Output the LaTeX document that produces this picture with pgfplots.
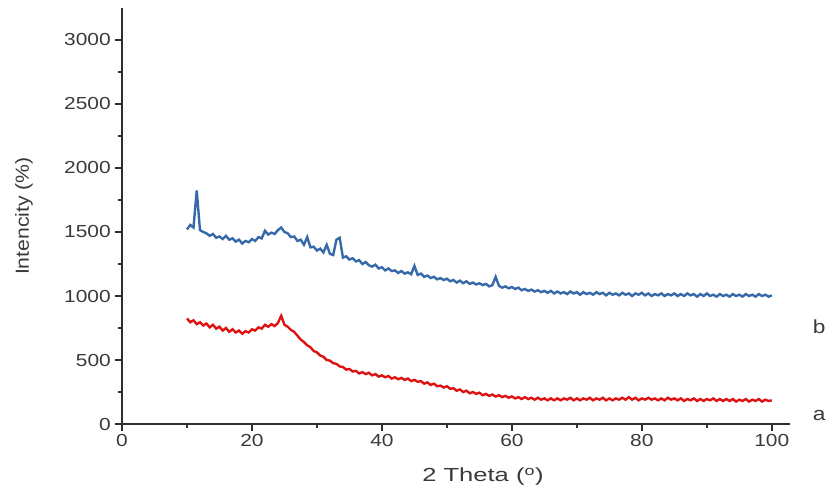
\documentclass[border=0pt]{standalone}
\usepackage{fontspec}
\setmainfont{Liberation Sans}
\usepackage{pgfplots}
\pgfplotsset{compat=1.18}
\definecolor{txt}{HTML}{3A3A3A}
\definecolor{axc}{HTML}{303030}
\definecolor{serA}{RGB}{222,18,18}
\definecolor{serB}{RGB}{55,105,168}

\begin{document}
\begin{tikzpicture}
\begin{axis}[
  scale only axis, width=668bp, height=416bp,
  xmin=0, xmax=102.8, ymin=0, ymax=3250,
  axis lines*=left,
  axis line style={axc, line width=1.7pt},
  xtick={0,20,...,100}, ytick={0,500,...,3000},
  minor x tick num=1, minor y tick num=1,
  tick align=outside,
  major tick length=7bp, minor tick length=4bp,
  tick style={axc, line width=1.4pt},
  /pgf/number format/assume math mode=true,
  /pgf/number format/1000 sep={},
  ticklabel style={font=\fontsize{17.5}{19}\selectfont, text=txt},
  xticklabel style={xscale=1.2},
  yticklabel style={xscale=1.2},
  xlabel={2 Theta (\textsuperscript{o})},
  ylabel={Intencity (\%)},
  label style={font=\fontsize{19}{21}\selectfont, text=txt},
  xlabel style={xscale=1.35, xshift=20bp, yshift=-14bp},
  ylabel style={xscale=1.12, yshift=24bp},
  clip=false,
]
% curve a (red)
\addplot[serA, line width=2.4pt] coordinates {
(10,825)(10.5,795)(11,810)(11.5,780)(12,795)(12.5,770)(13,785)(13.5,755)(14,775)(14.5,745)
(15,760)(15.5,730)(16,750)(16.5,720)(17,740)(17.5,715)(18,730)(18.5,705)(19,725)(19.5,715)
(20,740)(20.5,730)(21,755)(21.5,745)(22,775)(22.5,760)(23,780)(23.5,765)(24,790)(24.5,845)
(25,775)(25.5,760)(26,735)(26.5,720)(27,690)(27.5,660)(28,640)(28.5,615)(29,600)(29.5,570)
(30,560)(30.5,535)(31,525)(31.5,500)(32,495)(32.5,475)(33,470)(33.5,450)(34,445)(34.5,425)
(35,430)(35.5,410)(36,415)(36.5,395)(37,405)(37.5,390)(38,400)(38.5,380)(39,390)(39.5,370)
(40,380)(40.5,365)(41,375)(41.5,355)(42,365)(42.5,350)(43,360)(43.5,345)(44,355)(44.5,335)
(45,345)(45.5,330)(46,335)(46.5,315)(47,325)(47.5,305)(48,315)(48.5,295)(49,300)(49.5,285)
(50,295)(50.5,275)(51,280)(51.5,260)(52,270)(52.5,250)(53,260)(53.5,240)(54,250)(54.5,235)
(55,245)(55.5,225)(56,235)(56.5,220)(57,230)(57.5,215)(58,225)(58.5,210)(59,220)(59.5,205)
(60,215)(60.5,200)(61,210)(61.5,195)(62,210)(62.5,195)(63,205)(63.5,190)(64,205)(64.5,190)
(65,200)(65.5,185)(66,200)(66.5,185)(67,200)(67.5,185)(68,200)(68.5,190)(69,205)(69.5,185)
(70,200)(70.5,185)(71,200)(71.5,190)(72,205)(72.5,185)(73,200)(73.5,190)(74,205)(74.5,185)
(75,200)(75.5,185)(76,200)(76.5,190)(77,205)(77.5,190)(78,210)(78.5,190)(79,205)(79.5,185)
(80,200)(80.5,190)(81,205)(81.5,190)(82,200)(82.5,185)(83,200)(83.5,185)(84,205)(84.5,190)
(85,200)(85.5,185)(86,200)(86.5,180)(87,195)(87.5,185)(88,200)(88.5,180)(89,195)(89.5,180)
(90,195)(90.5,185)(91,200)(91.5,180)(92,195)(92.5,180)(93,195)(93.5,180)(94,195)(94.5,175)
(95,190)(95.5,180)(96,195)(96.5,175)(97,190)(97.5,180)(98,195)(98.5,175)(99,190)(99.5,180)
(100,185)};
% curve b (blue)
\addplot[serB, line width=2.4pt] coordinates {
(10,1520)(10.5,1555)(11,1535)(11.5,1825)(12,1515)(12.5,1500)(13,1490)(13.5,1470)(14,1485)(14.5,1455)
(15,1465)(15.5,1445)(16,1470)(16.5,1440)(17,1450)(17.5,1425)(18,1440)(18.5,1410)(19,1430)(19.5,1420)
(20,1445)(20.5,1430)(21,1460)(21.5,1450)(22,1510)(22.5,1480)(23,1495)(23.5,1485)(24,1515)(24.5,1535)
(25,1500)(25.5,1490)(26,1460)(26.5,1465)(27,1430)(27.5,1440)(28,1400)(28.5,1460)(29,1380)(29.5,1385)
(30,1355)(30.5,1370)(31,1340)(31.5,1400)(32,1330)(32.5,1320)(33,1440)(33.5,1455)(34,1300)(34.5,1310)
(35,1285)(35.5,1295)(36,1270)(36.5,1280)(37,1250)(37.5,1265)(38,1240)(38.5,1230)(39,1245)(39.5,1215)
(40,1225)(40.5,1200)(41,1215)(41.5,1195)(42,1200)(42.5,1180)(43,1195)(43.5,1175)(44,1185)(44.5,1170)
(45,1235)(45.5,1165)(46,1175)(46.5,1150)(47,1160)(47.5,1140)(48,1150)(48.5,1130)(49,1140)(49.5,1125)
(50,1135)(50.5,1115)(51,1125)(51.5,1105)(52,1120)(52.5,1100)(53,1115)(53.5,1095)(54,1105)(54.5,1090)
(55,1100)(55.5,1085)(56,1095)(56.5,1075)(57,1085)(57.5,1150)(58,1080)(58.5,1065)(59,1075)(59.5,1060)
(60,1070)(60.5,1055)(61,1065)(61.5,1045)(62,1055)(62.5,1040)(63,1050)(63.5,1035)(64,1045)(64.5,1030)
(65,1040)(65.5,1025)(66,1040)(66.5,1020)(67,1035)(67.5,1020)(68,1030)(68.5,1015)(69,1035)(69.5,1020)
(70,1030)(70.5,1010)(71,1030)(71.5,1015)(72,1025)(72.5,1010)(73,1030)(73.5,1015)(74,1025)(74.5,1005)
(75,1025)(75.5,1010)(76,1020)(76.5,1005)(77,1025)(77.5,1010)(78,1020)(78.5,1000)(79,1020)(79.5,1010)
(80,1025)(80.5,1005)(81,1020)(81.5,1000)(82,1015)(82.5,1005)(83,1020)(83.5,1000)(84,1015)(84.5,1005)
(85,1020)(85.5,1000)(86,1015)(86.5,1000)(87,1020)(87.5,1005)(88,1015)(88.5,995)(89,1015)(89.5,1000)
(90,1020)(90.5,1000)(91,1010)(91.5,995)(92,1015)(92.5,1000)(93,1010)(93.5,995)(94,1015)(94.5,1000)
(95,1010)(95.5,995)(96,1015)(96.5,1000)(97,1010)(97.5,995)(98,1015)(98.5,1000)(99,1010)(99.5,995)
(100,1005)};
\node[font=\fontsize{19}{21}\selectfont, text=txt, xscale=1.2] at (axis cs:107.3,760) {b};
\node[font=\fontsize{19}{21}\selectfont, text=txt, xscale=1.2] at (axis cs:107.3,70) {a};
\end{axis}
\pgfresetboundingbox
\path (-122bp,-70bp) rectangle (704bp,424bp);
\end{tikzpicture}
\end{document}
